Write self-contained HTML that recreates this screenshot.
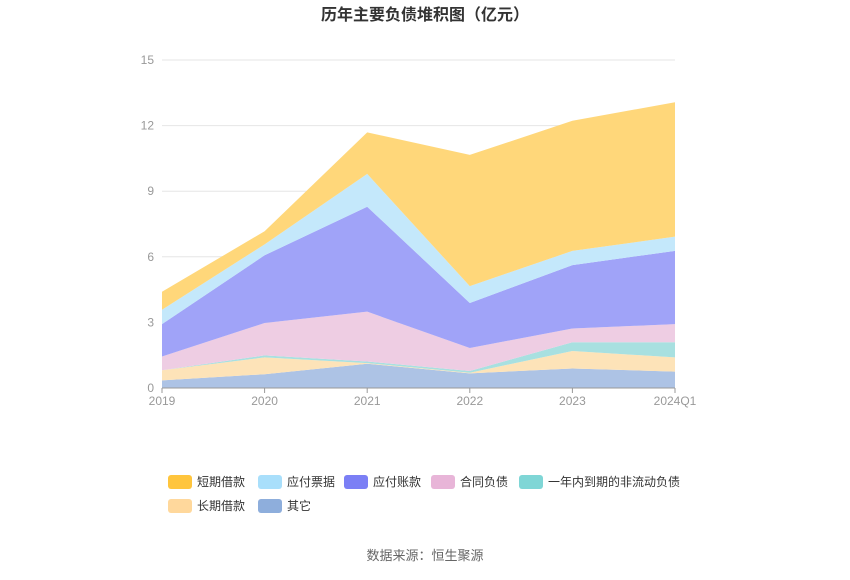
<!DOCTYPE html>
<html><head><meta charset="utf-8"><style>
body{margin:0;background:#fff;font-family:"Liberation Sans","Noto Sans CJK SC",sans-serif;}
svg text{font-family:"Liberation Sans","Noto Sans CJK SC",sans-serif;}
</style></head><body>
<svg id="c" width="850" height="575">
<text x="425" y="20" text-anchor="middle" font-size="16" font-weight="bold" fill="#333">历年主要负债堆积图（亿元）</text>
<g id="grid"></g><g id="areas"></g><g id="axes"></g><g id="legend"></g>
<text x="425" y="560" text-anchor="middle" font-size="13" fill="#666">数据来源：恒生聚源</text>
</svg>
<script>
const categories=["2019","2020","2021","2022","2023","2024Q1"];
const seriesNames=["其它","长期借款","一年内到期的非流动负债","合同负债","应付账款","应付票据","短期借款"];
const other=[0.35,0.63,1.11,0.67,0.89,0.75];
const longLoan=[0.46,0.77,0.03,0.03,0.8,0.65];
const dueWithinYear=[0,0.09,0.07,0.08,0.4,0.69];
const contractLiab=[0.63,1.48,2.28,1.05,0.63,0.83];
const payables=[1.48,3.1,4.8,2.06,2.9,3.35];
const notesPayable=[0.66,0.5,1.5,0.77,0.65,0.65];
const shortLoan=[0.82,0.6,1.9,6.0,5.95,6.15];
const yTicks=[0,3,6,9,12,15];
const series=[other,longLoan,dueWithinYear,contractLiab,payables,notesPayable,shortLoan];
const fills=["#adc3e5","#fde3b8","#a8e0e0","#eecde3","#a0a3f8","#c4e8fb","#ffd77a"];
const legendColors=["#8eaedc","#ffd89c","#7fd6d6","#e8b5d8","#7b7ff5","#a9dffb","#ffc53d"];
const slugs=["other","long-term-loan","current-noncurrent-liab","contract-liab","accounts-payable","notes-payable","short-term-loan"];
const NS="http://www.w3.org/2000/svg";
const x0=162,x1=675,y0=388,y1=60,yMax=15;
const X=i=>x0+(x1-x0)*i/(categories.length-1);
const Y=v=>y0-(y0-y1)*v/yMax;
function mk(t,a,p){const e=document.createElementNS(NS,t);for(const k in a)e.setAttribute(k,a[k]);p.appendChild(e);return e;}
const grid=document.getElementById('grid'),areas=document.getElementById('areas'),axes=document.getElementById('axes'),legend=document.getElementById('legend');
yTicks.forEach(t=>{
 const l=mk('line',{x1:x0,x2:x1,y1:Y(t),y2:Y(t),stroke:'#e6e6e6'},grid);
 
 
 const tx=mk('text',{x:x0-8,y:Y(t)+4,'text-anchor':'end','font-size':12,fill:'#999'},axes);tx.textContent=t;
 
 
});
let cum=categories.map(()=>0);
series.forEach((s,k)=>{
 const lower=cum.slice();cum=cum.map((c,i)=>c+s[i]);
 let d='M'+cum.map((v,i)=>X(i)+','+Y(v)).join('L');
 for(let i=categories.length-1;i>=0;i--)d+='L'+X(i)+','+Y(lower[i]);
 const p=mk('path',{d:d+'Z',fill:fills[k],stroke:'none'},areas);
 
 
});
const ax=mk('line',{x1:x0,x2:x1,y1:y0,y2:y0,stroke:'#999'},axes);


categories.forEach((c,i)=>{
 const tk=mk('line',{x1:X(i),x2:X(i),y1:y0,y2:y0+5,stroke:'#999'},axes);
 
 
 const t=mk('text',{x:X(i),y:y0+17,'text-anchor':'middle','font-size':12,fill:'#999'},axes);t.textContent=c;
 
 
});
const order=[6,5,4,3,2,1,0];
const pos=[[168,482],[258,482],[344,482],[431,482],[519,482],[168,506],[258,506]];
order.forEach((k,j)=>{
 const [lx,ly]=pos[j];
 const g=mk('g',{},legend);
 
 
 mk('rect',{x:lx,y:ly-7,width:24,height:14,rx:3,fill:legendColors[k]},g);
 const t=mk('text',{x:lx+29,y:ly+4,'font-size':12,fill:'#333'},g);t.textContent=seriesNames[k];
});
</script>
</body></html>
